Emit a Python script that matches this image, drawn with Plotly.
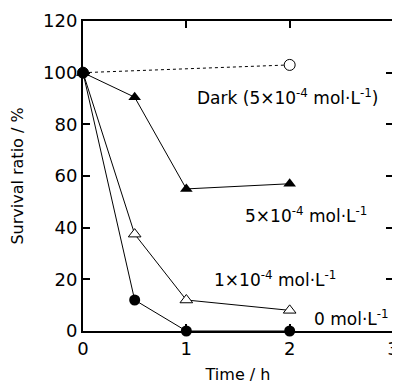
import plotly.graph_objects as go

time_h = [0, 0.5, 1, 2]
dark_t = [0, 2]
dark_v = [100, 103]
c5_v = [100, 90.5, 55, 57]
c1_v = [100, 37.5, 12, 8]
c0_v = [100, 12, 0, 0]

x_ticks = [0, 1, 2, 3]
y_ticks = [0, 20, 40, 60, 80, 100, 120]

fig = go.Figure()
line = dict(color="black", width=1)
fig.add_trace(go.Scatter(x=dark_t, y=dark_v, mode="lines+markers",
                         line=dict(color="black", width=1, dash="dot"),
                         marker=dict(symbol="circle", size=11, color="white", line=dict(width=1, color="black"))))
fig.add_trace(go.Scatter(x=time_h, y=c5_v, mode="lines+markers", line=line,
                         marker=dict(symbol="triangle-up", size=11, color="black")))
fig.add_trace(go.Scatter(x=time_h, y=c1_v, mode="lines+markers", line=line,
                         marker=dict(symbol="triangle-up", size=11, color="white", line=dict(width=1, color="black"))))
fig.add_trace(go.Scatter(x=time_h, y=c0_v, mode="lines+markers", line=line,
                         marker=dict(symbol="circle", size=11, color="black")))
for tr in fig.data:
    tr.cliponaxis = False

fam = "DejaVu Sans, Liberation Sans, sans-serif"
font = dict(family=fam, size=18, color="black")
afont = dict(family=fam, size=17, color="black")
tfont = dict(family=fam, size=16, color="black")

anns = [
    (1.08, 90.5, "Dark (5×10<sup>-4</sup> mol·L<sup>-1</sup>)"),
    (1.55, 45, "5×10<sup>-4</sup> mol·L<sup>-1</sup>"),
    (1.25, 20, "1×10<sup>-4</sup> mol·L<sup>-1</sup>"),
    (2.22, 5, "0 mol·L<sup>-1</sup>"),
]
for x, y, t in anns:
    fig.add_annotation(x=x, y=y, text=t, showarrow=False, xanchor="left", yanchor="middle", font=afont)

axis_common = dict(showline=True, linecolor="black", linewidth=2, mirror="ticks",
                   ticks="inside", ticklen=7, tickcolor="black", tickwidth=1.5,
                   showgrid=False, zeroline=False, tickfont=font, automargin=False,
                   ticklabeloverflow="allow")
fig.update_xaxes(range=[0, 3], tickvals=x_ticks,
                 title=dict(text="Time / h", font=tfont, standoff=11), **axis_common)
fig.update_yaxes(range=[0, 120], tickvals=y_ticks,
                 title=dict(text="Survival ratio / %", font=tfont, standoff=15), **axis_common)

# page body has an 8px margin, so the figure is 8px smaller and margins compensate
fig.update_layout(width=392, height=376, margin=dict(l=75, r=7, t=13, b=53),
                  plot_bgcolor="white", paper_bgcolor="white", showlegend=False, font=font)
fig.write_html("out.html")
